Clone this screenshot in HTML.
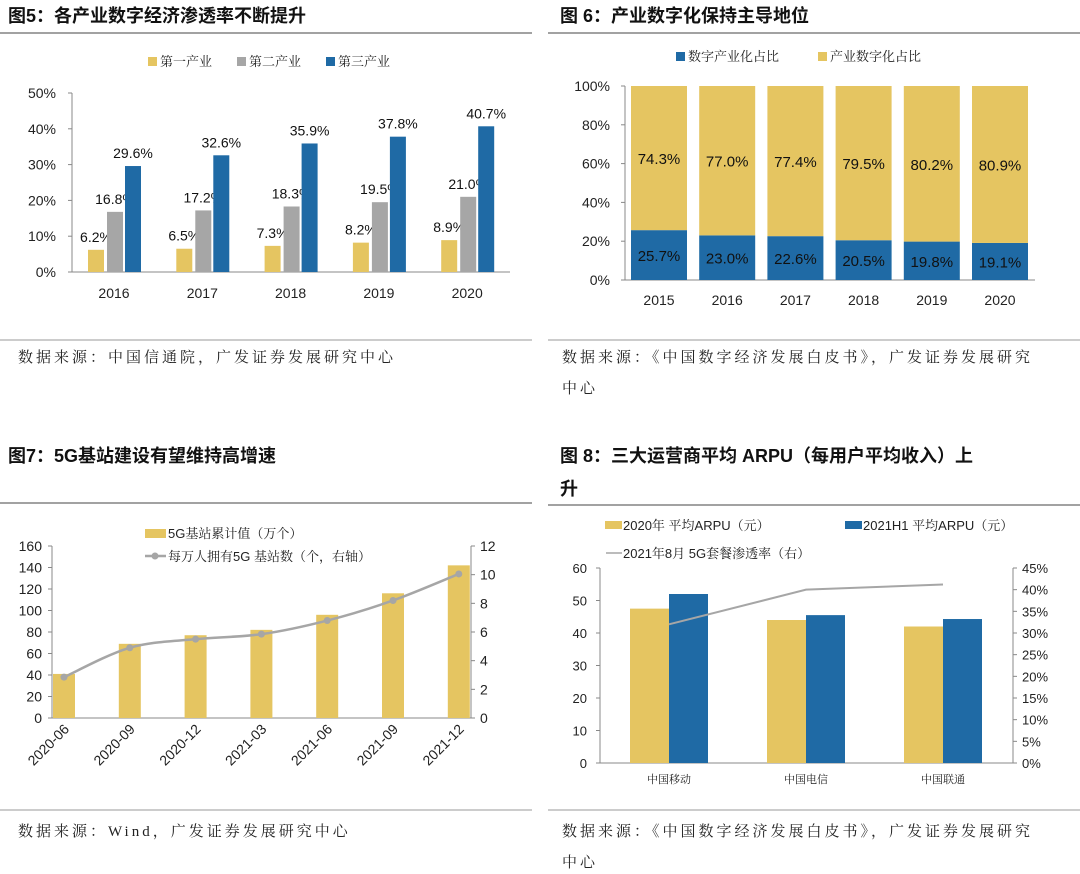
<!DOCTYPE html>
<html><head><meta charset="utf-8"><style>
html,body{margin:0;padding:0;background:#fff;}
svg{display:block;font-family:"Liberation Sans","Noto Sans CJK SC",sans-serif;}
.t{font-weight:bold;font-size:18px;fill:#111;}
.s{font-family:"Liberation Serif","Noto Serif CJK SC",serif;font-size:15px;fill:#222;letter-spacing:3px;}
.ax{font-size:14px;fill:#222;}
.lg{font-family:"Liberation Sans","Noto Serif CJK SC",serif;font-size:13px;fill:#222;}
.v{font-size:14px;fill:#111;}
</style></head><body>
<svg id="root" width="1080" height="874" xmlns="http://www.w3.org/2000/svg">
<text class="t" x="8" y="22">图5：各产业数字经济渗透率不断提升</text>
<text class="t" x="560" y="22">图 6：产业数字化保持主导地位</text>
<line x1="0" y1="33" x2="532" y2="33" stroke="#444"/>
<line x1="548" y1="33" x2="1080" y2="33" stroke="#444"/>
<line x1="0" y1="340" x2="532" y2="340" stroke="#999"/>
<line x1="548" y1="340" x2="1080" y2="340" stroke="#999"/>
<text class="s" x="18" y="362">数据来源：中国信通院，广发证券发展研究中心</text>
<text class="s" x="562" y="362">数据来源：《中国数字经济发展白皮书》，广发证券发展研究</text>
<text class="s" x="562" y="393">中心</text>
<text class="t" x="8" y="462">图7：5G基站建设有望维持高增速</text>
<text class="t" x="560" y="462">图 8：三大运营商平均 ARPU（每用户平均收入）上</text>
<text class="t" x="560" y="495">升</text>
<line x1="0" y1="503" x2="532" y2="503" stroke="#444"/>
<line x1="548" y1="505" x2="1080" y2="505" stroke="#444"/>
<line x1="0" y1="810" x2="532" y2="810" stroke="#999"/>
<line x1="548" y1="810" x2="1080" y2="810" stroke="#999"/>
<text class="s" x="18" y="836">数据来源：Wind，广发证券发展研究中心</text>
<text class="s" x="562" y="836">数据来源：《中国数字经济发展白皮书》，广发证券发展研究</text>
<text class="s" x="562" y="867">中心</text>
<g id="c5"></g><g id="c6"></g><g id="c7"></g><g id="c8"></g>
</svg>
<script>
const Y='#e5c561',G='#a6a6a6',B='#1f6aa5';
// fig5
const c5Cats=['2016','2017','2018','2019','2020'];
const c5Prim=[6.2,6.5,7.3,8.2,8.9];
const c5Sec=[16.8,17.2,18.3,19.5,21.0];
const c5Ter=[29.6,32.6,35.9,37.8,40.7];
const c5Ticks=[0,10,20,30,40,50];
// fig6
const c6Cats=['2015','2016','2017','2018','2019','2020'];
const c6Dig=[25.7,23.0,22.6,20.5,19.8,19.1];
const c6Ind=[74.3,77.0,77.4,79.5,80.2,80.9];
const c6Ticks=[0,20,40,60,80,100];
// fig7
const c7Cats=['2020-06','2020-09','2020-12','2021-03','2021-06','2021-09','2021-12'];
const c7Bars=[41,69,77,82,96,116,142];
const c7Line=[2.85,4.9,5.5,5.85,6.8,8.2,10.05];
const c7Left=[0,20,40,60,80,100,120,140,160];
const c7Right=[0,2,4,6,8,10,12];
// fig8
const c8Cats=['中国移动','中国电信','中国联通'];
const c8A=[47.5,44,42];
const c8B=[52,45.5,44.3];
const c8Pen=[32,40,41.2];
const c8Left=[0,10,20,30,40,50,60];
const c8Right=[0,5,10,15,20,25,30,35,40,45];

const NS='http://www.w3.org/2000/svg';
function mk(p,tag,a,txt){const e=document.createElementNS(NS,tag);for(const k in a)e.setAttribute(k,a[k]);if(txt!==undefined)e.textContent=txt;p.appendChild(e);return e;}
function smooth(pts){let d='M'+pts[0][0]+' '+pts[0][1];for(let i=0;i<pts.length-1;i++){const p0=pts[i-1]||pts[i],p1=pts[i],p2=pts[i+1],p3=pts[i+2]||p2;
const c1=[p1[0]+(p2[0]-p0[0])/6,p1[1]+(p2[1]-p0[1])/6],c2=[p2[0]-(p3[0]-p1[0])/6,p2[1]-(p3[1]-p1[1])/6];
d+=`C${c1[0]} ${c1[1]} ${c2[0]} ${c2[1]} ${p2[0]} ${p2[1]}`;}return d;}

// ---- fig5
(function(){
const g=document.getElementById('c5');
const y=v=>272-v/50*179, x=i=>114+i*88.3;
c5Ticks.forEach(t=>{const e=mk(g,'text',{x:56,y:y(t)+5,'text-anchor':'end',class:'ax'},t+'%');

mk(g,'line',{x1:68,x2:72,y1:y(t),y2:y(t),stroke:'#888'});});
mk(g,'line',{x1:72,x2:72,y1:93,y2:272,stroke:'#888'});
mk(g,'line',{x1:72,x2:510,y1:272,y2:272,stroke:'#888'});
const ser=[[c5Prim,Y,-18],[c5Sec,G,1],[c5Ter,B,19]];
c5Cats.forEach((c,i)=>{
 const e=mk(g,'text',{x:x(i),y:298,'text-anchor':'middle',class:'ax'},c);
 
 ser.forEach((s,k)=>{const v=s[0][i],cx=x(i)+s[2];
  const r=mk(g,'rect',{x:cx-8,y:y(v),width:16,height:272-y(v),fill:s[1]});
  
  const l=mk(g,'text',{x:cx,y:y(v)-8,'text-anchor':'middle',class:'v'},v.toFixed(1)+'%');
  });
});
[['第一产业',Y,148],['第二产业',G,237],['第三产业',B,326]].forEach(a=>{
 const r=mk(g,'rect',{x:a[2],y:57,width:9,height:9,fill:a[1]});
 const t=mk(g,'text',{x:a[2]+12,y:66,class:'lg'},a[0]);});
})();

// ---- fig6
(function(){
const g=document.getElementById('c6');
const y=v=>280-v/100*194, x=i=>659+i*68.2;
c6Ticks.forEach(t=>{const e=mk(g,'text',{x:610,y:y(t)+5,'text-anchor':'end',class:'ax'},t+'%');

mk(g,'line',{x1:621,x2:625,y1:y(t),y2:y(t),stroke:'#888'});});
mk(g,'line',{x1:625,x2:625,y1:86,y2:280,stroke:'#888'});
mk(g,'line',{x1:625,x2:1035,y1:280,y2:280,stroke:'#888'});
c6Cats.forEach((c,i)=>{
 const e=mk(g,'text',{x:x(i),y:305,'text-anchor':'middle',class:'ax'},c);
 
 const d=c6Dig[i],n=c6Ind[i];
 const r1=mk(g,'rect',{x:x(i)-28,y:y(d),width:56,height:280-y(d),fill:B});
 
 const r2=mk(g,'rect',{x:x(i)-28,y:y(d+n),width:56,height:y(d)-y(d+n),fill:Y});
 
 const l1=mk(g,'text',{x:x(i),y:y(d/2)+6,'text-anchor':'middle',class:'v',style:'font-size:15px'},d.toFixed(1)+'%');
 
 const l2=mk(g,'text',{x:x(i),y:y(d+n/2)+6,'text-anchor':'middle',class:'v',style:'font-size:15px'},n.toFixed(1)+'%');
 
});
[['数字产业化占比',B,676],['产业数字化占比',Y,818]].forEach(a=>{
 const r=mk(g,'rect',{x:a[2],y:52,width:9,height:9,fill:a[1]});
 const t=mk(g,'text',{x:a[2]+12,y:61,class:'lg'},a[0]);});
})();

// ---- fig7
(function(){
const g=document.getElementById('c7');
const yl=v=>718-v/160*172, yr=v=>718-v/12*172, x=i=>64+i*65.8;
c7Left.forEach(t=>{const e=mk(g,'text',{x:42,y:yl(t)+5,'text-anchor':'end',class:'ax'},t);

mk(g,'line',{x1:48,x2:52,y1:yl(t),y2:yl(t),stroke:'#888'});});
c7Right.forEach(t=>{const e=mk(g,'text',{x:480,y:yr(t)+5,class:'ax'},t);

mk(g,'line',{x1:471,x2:475,y1:yr(t),y2:yr(t),stroke:'#888'});});
mk(g,'line',{x1:52,x2:52,y1:546,y2:718,stroke:'#888'});
mk(g,'line',{x1:471,x2:471,y1:546,y2:718,stroke:'#888'});
mk(g,'line',{x1:52,x2:471,y1:718,y2:718,stroke:'#888'});
c7Cats.forEach((c,i)=>{
 const r=mk(g,'rect',{x:x(i)-11,y:yl(c7Bars[i]),width:22,height:718-yl(c7Bars[i]),fill:Y});
 
 const e=mk(g,'text',{x:x(i)+6,y:730,'text-anchor':'end',class:'ax',transform:`rotate(-45 ${x(i)+6} 730)`},c);
 
});
const p=mk(g,'path',{d:smooth(c7Line.map((v,i)=>[x(i),yr(v)])),fill:'none',stroke:G,'stroke-width':2.5});

c7Line.forEach((v,i)=>{const c=mk(g,'circle',{cx:x(i),cy:yr(v),r:3.5,fill:G});
});
const r=mk(g,'rect',{x:145,y:529,width:21,height:9,fill:Y});
const t1=mk(g,'text',{x:168,y:538,class:'lg'},'5G基站累计值（万个）');
mk(g,'line',{x1:145,x2:166,y1:556,y2:556,stroke:G,'stroke-width':2.5});
mk(g,'circle',{cx:155,cy:556,r:3.5,fill:G});
const t2=mk(g,'text',{x:168,y:561,class:'lg'},'每万人拥有5G 基站数（个，右轴）');
})();

// ---- fig8
(function(){
const g=document.getElementById('c8');
const yl=v=>763-v/60*195, yr=v=>763-v/45*195, x=i=>669+i*137;
c8Left.forEach(t=>{const e=mk(g,'text',{x:587,y:yl(t)+5,'text-anchor':'end',class:'ax',style:'font-size:13px'},t);

mk(g,'line',{x1:596,x2:600,y1:yl(t),y2:yl(t),stroke:'#888'});});
c8Right.forEach(t=>{const e=mk(g,'text',{x:1022,y:yr(t)+5,class:'ax',style:'font-size:13px'},t+'%');

mk(g,'line',{x1:1013,x2:1017,y1:yr(t),y2:yr(t),stroke:'#888'});});
mk(g,'line',{x1:600,x2:600,y1:568,y2:763,stroke:'#888'});
mk(g,'line',{x1:1013,x2:1013,y1:568,y2:763,stroke:'#888'});
mk(g,'line',{x1:600,x2:1013,y1:763,y2:763,stroke:'#888'});
c8Cats.forEach((c,i)=>{
 const a=mk(g,'rect',{x:x(i)-39,y:yl(c8A[i]),width:39,height:763-yl(c8A[i]),fill:Y});
 
 const b=mk(g,'rect',{x:x(i),y:yl(c8B[i]),width:39,height:763-yl(c8B[i]),fill:B});
 
 const e=mk(g,'text',{x:x(i),y:783,'text-anchor':'middle',class:'lg',style:'font-size:11px'},c);
 
});
let d='';c8Pen.forEach((v,i)=>{d+=(i?'L':'M')+x(i)+' '+yr(v);});
const p=mk(g,'path',{d:d,fill:'none',stroke:G,'stroke-width':2});

const r1=mk(g,'rect',{x:605,y:521,width:17,height:8,fill:Y});
const t1=mk(g,'text',{x:623,y:530,class:'lg'},'2020年 平均ARPU（元）');
const r2=mk(g,'rect',{x:845,y:521,width:17,height:8,fill:B});
const t2=mk(g,'text',{x:863,y:530,class:'lg'},'2021H1 平均ARPU（元）');
mk(g,'line',{x1:606,x2:622,y1:553,y2:553,stroke:G,'stroke-width':1.5});
const t3=mk(g,'text',{x:623,y:558,class:'lg'},'2021年8月 5G套餐渗透率（右）');
})();
</script>
</body></html>
